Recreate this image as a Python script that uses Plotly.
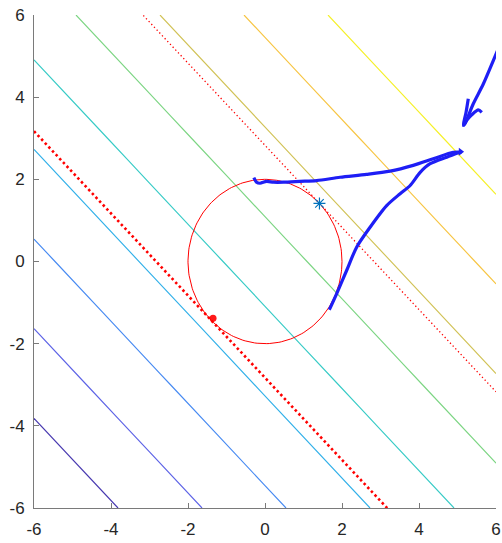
import numpy as np
import plotly.graph_objects as go

# ---- data ----
grid_x = [-6, -3, 0, 3, 6]
grid_y = [-6, -3, 0, 3, 6]
level_start = -9.818
level_end = 9.818
level_step = 24 / 11

circle_r = 2.0
tangent_c = 2 * np.sqrt(2)
line_x = [-6, 6]
opt_point = [np.sqrt(2), np.sqrt(2)]
min_point = [-1.35, -1.38]

stroke1_x = [-0.29, -0.22, -0.13, 0.04, 0.22, 0.48, 0.91, 1.34, 1.95, 2.64, 3.25, 3.85, 4.37, 4.89, 5.11]
stroke1_y = [2.04, 1.93, 1.905, 1.95, 1.93, 1.93, 1.95, 1.97, 2.05, 2.12, 2.20, 2.34, 2.50, 2.66, 2.66]
stroke2_x = [1.67, 1.86, 2.12, 2.38, 2.73, 3.16, 3.51, 3.77, 4.03, 4.29, 4.72, 5.06]
stroke2_y = [-1.175, -0.786, -0.219, 0.348, 0.835, 1.36, 1.65, 1.85, 2.17, 2.38, 2.54, 2.66]
shaft_x = [6.15, 5.93, 5.67, 5.41, 5.19, 5.15]
shaft_y = [5.38, 4.89, 4.32, 3.84, 3.35, 3.31]
barb_x = [5.28, 5.22, 5.15, 5.25, 5.37, 5.54, 5.63]
barb_y = [3.96, 3.62, 3.31, 3.45, 3.57, 3.69, 3.63]
head_x = [5.08]
head_y = [2.67]

ticks = [-6, -4, -2, 0, 2, 4, 6]

# colours of the ten contour levels, low to high
level_colors = [
    "rgb(70,55,175)", "rgb(95,95,228)", "rgb(75,128,242)", "rgb(60,168,240)",
    "rgb(30,190,220)", "rgb(80,215,175)", "rgb(150,212,105)", "rgb(228,188,80)",
    "rgb(250,198,65)", "rgb(245,240,40)",
]
cscale = [[i / (len(level_colors) - 1), c] for i, c in enumerate(level_colors)]

GX, GY = np.meshgrid(grid_x, grid_y)
Z = GX + GY

fig = go.Figure()
fig.add_trace(go.Contour(
    x=grid_x, y=grid_y, z=Z,
    contours=dict(start=level_start, end=level_end, size=level_step, coloring="lines"),
    colorscale=cscale, zmin=level_start, zmax=level_end, zauto=False,
    line=dict(width=1.15), showscale=False, hoverinfo="skip",
))

theta = np.linspace(0, 2 * np.pi, 200)
fig.add_trace(go.Scatter(x=circle_r * np.cos(theta), y=circle_r * np.sin(theta),
                         mode="lines", line=dict(color="red", width=1)))

lx = np.array(line_x, dtype=float)
fig.add_trace(go.Scatter(x=lx, y=-tangent_c - lx, mode="lines",
                         line=dict(color="red", width=2.6, dash="2.5px,2.8px")))
fig.add_trace(go.Scatter(x=lx, y=tangent_c - lx, mode="lines",
                         line=dict(color="red", width=1.3, dash="1.3px,2.6px")))

fig.add_trace(go.Scatter(x=[opt_point[0]], y=[opt_point[1]], mode="markers",
                         marker=dict(symbol="asterisk-open", size=10, color="#0072BD",
                                     line=dict(color="#0072BD", width=1.2))))
fig.add_trace(go.Scatter(x=[min_point[0]], y=[min_point[1]], mode="markers",
                         marker=dict(symbol="circle", size=7, color="rgba(255,0,0,0.9)")))

blue = "rgb(30,30,245)"
for sx, sy in [(stroke1_x, stroke1_y), (stroke2_x, stroke2_y), (shaft_x, shaft_y), (barb_x, barb_y)]:
    fig.add_trace(go.Scatter(x=sx, y=sy, mode="lines",
                             line=dict(color=blue, width=3.2, shape="spline", smoothing=0.8)))
fig.add_trace(go.Scatter(x=head_x, y=head_y, mode="markers",
                         marker=dict(symbol="triangle-right", size=7, color=blue)))

axis_common = dict(
    range=[-6, 6], tickvals=ticks, ticktext=[str(t) for t in ticks],
    ticks="inside", ticklen=5, tickcolor="#7a7a7a", tickwidth=1,
    showline=True, linecolor="#7a7a7a", linewidth=1,
    showgrid=False, zeroline=False, mirror=False, automargin=False,
    tickfont=dict(family="Liberation Sans, Arial, sans-serif", size=17, color="#262626"),
)
fig.update_layout(
    width=502, height=543,
    margin=dict(l=34, r=6, t=15, b=35),
    paper_bgcolor="white", plot_bgcolor="white",
    showlegend=False,
    xaxis=dict(**axis_common, ticklabelstandoff=6),
    yaxis=dict(**axis_common, ticklabelstandoff=5),
)
fig.write_html("out.html", config={"displayModeBar": False},
               post_script="document.body.style.margin='0';")
